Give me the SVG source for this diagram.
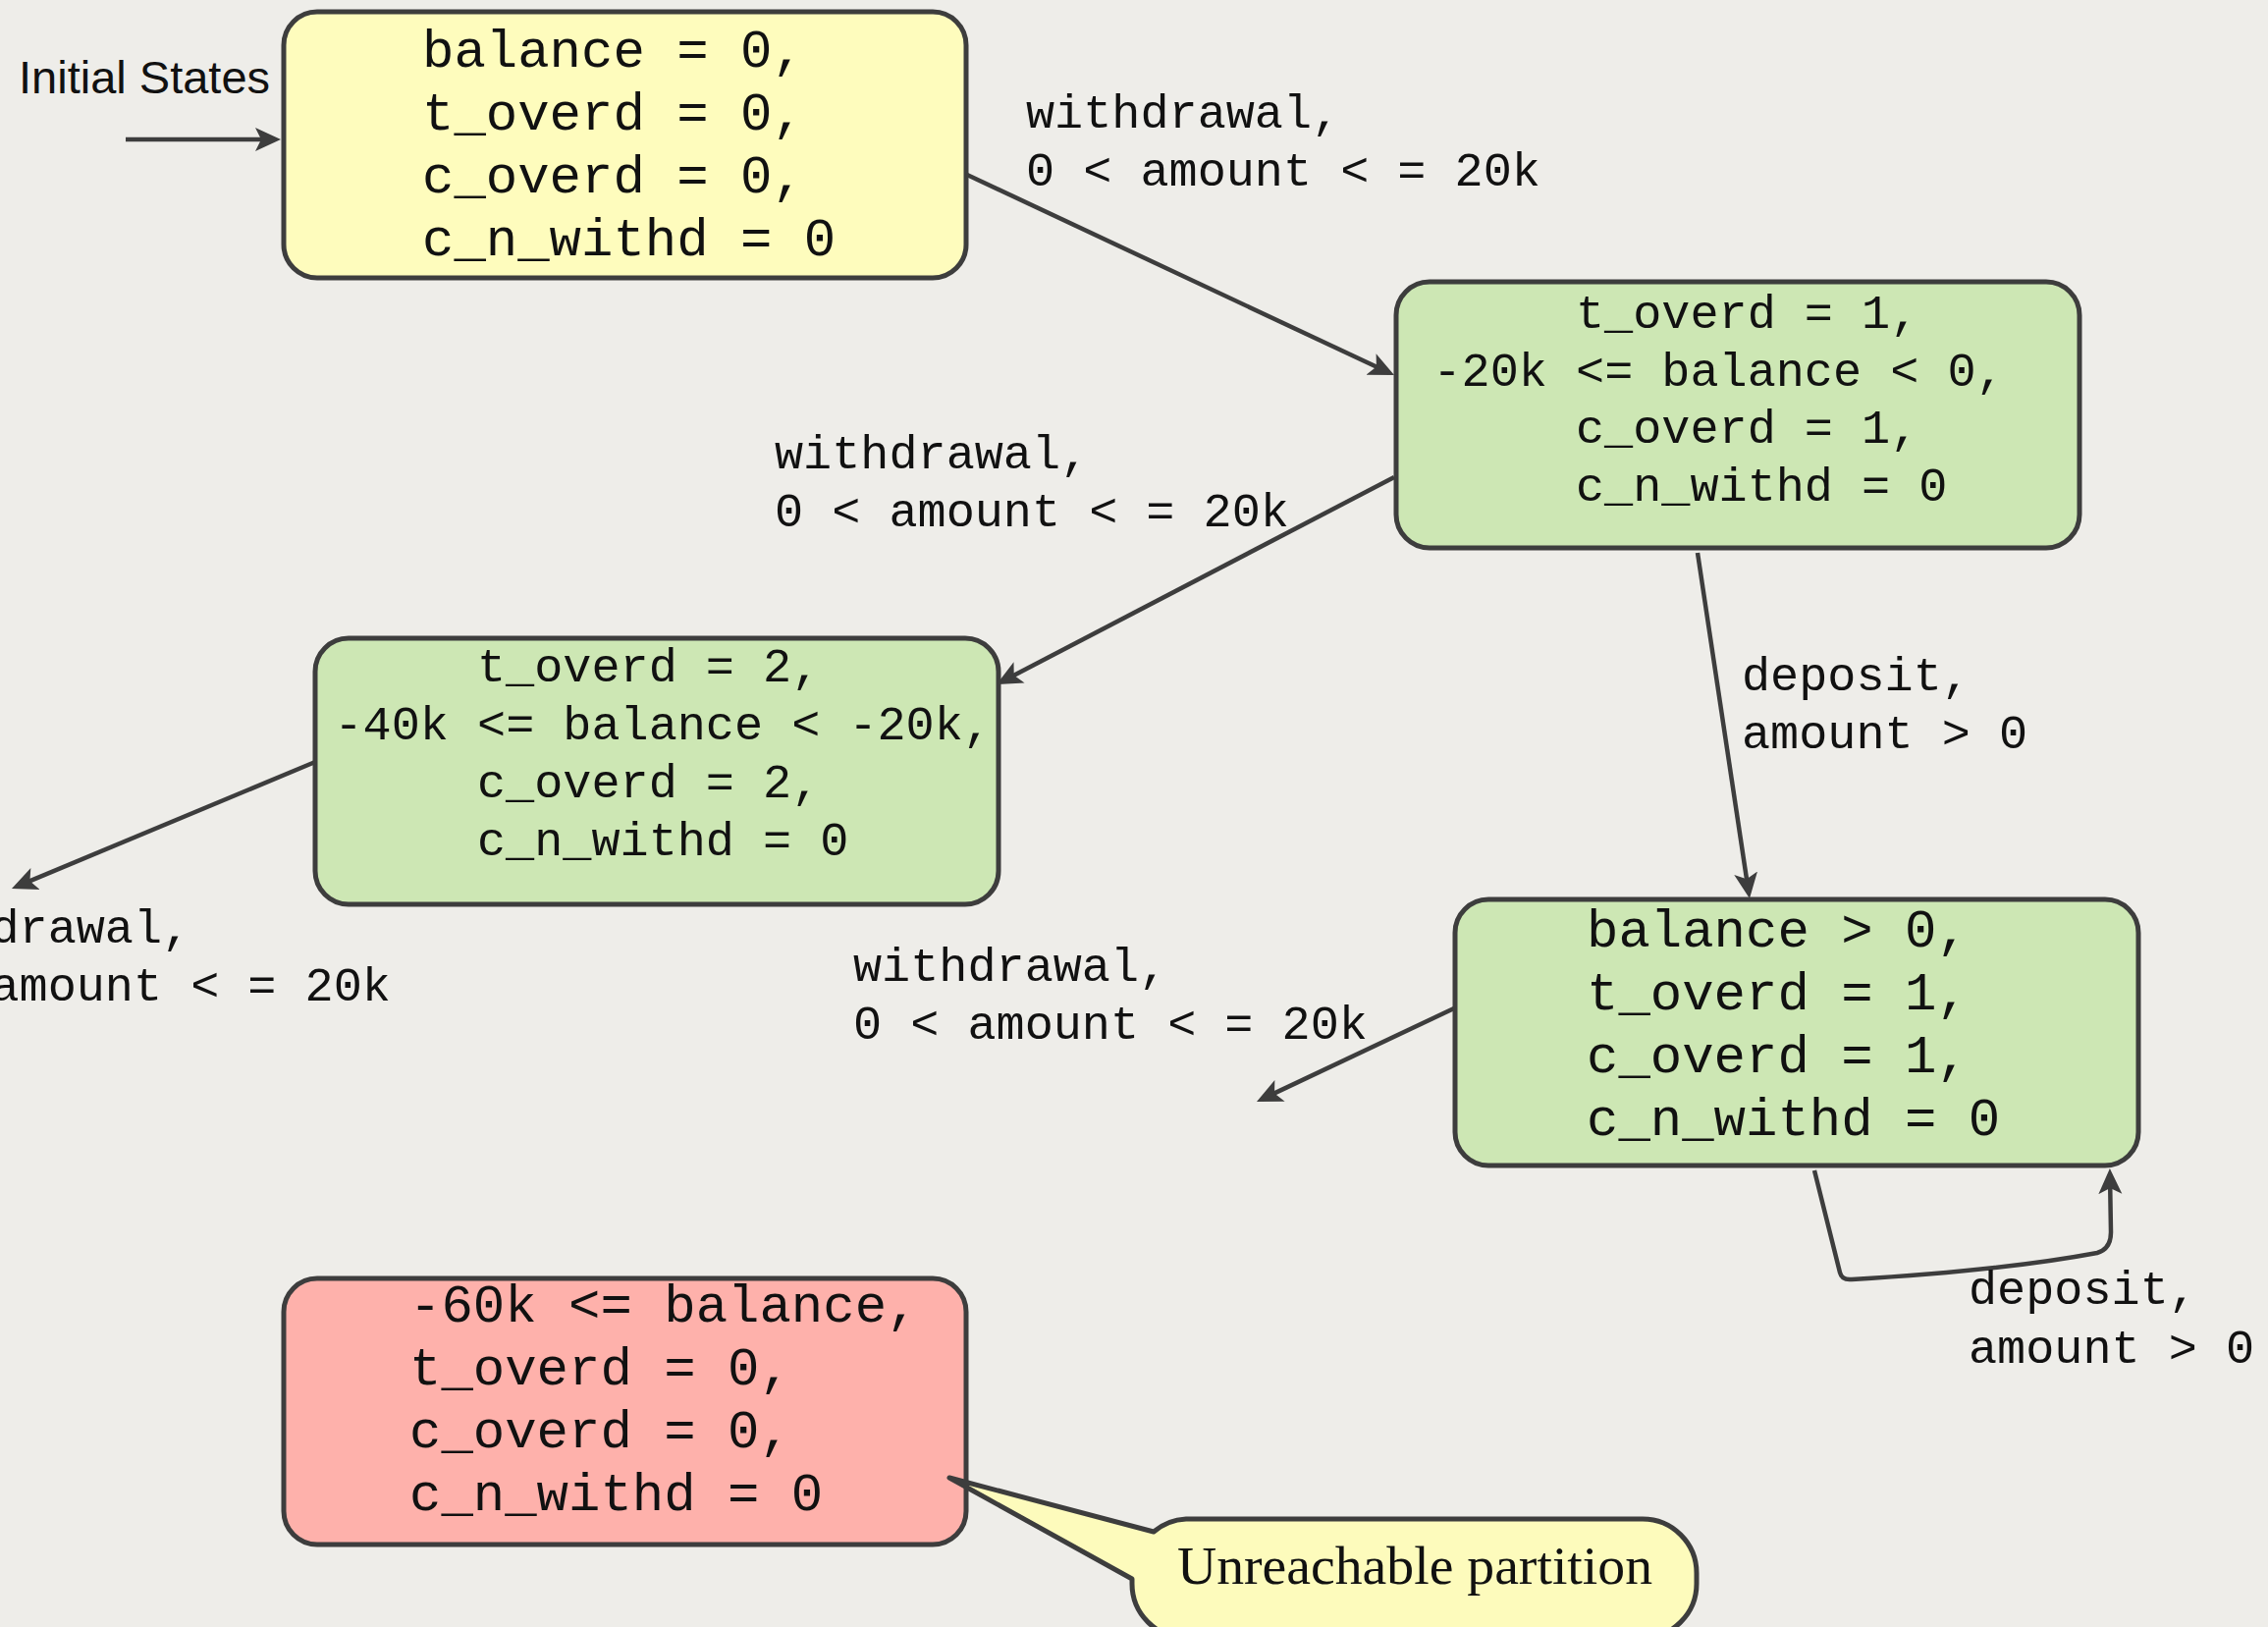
<svg xmlns="http://www.w3.org/2000/svg" width="2310" height="1657" viewBox="0 0 2310 1657">
  <style>
    .bg { fill: #eeede9; }
    .node { stroke: #3d3d3d; stroke-width: 5; }
    .init { fill: #fefcbd; }
    .ok { fill: #cde7b4; }
    .bad { fill: #feb1ab; }
    .mono { font-family: "Liberation Mono", "DejaVu Sans Mono", monospace; fill: #111; }
    .big { font-size: 54px; }
    .small { font-size: 48.5px; }
    .edge { fill: none; stroke: #3d3d3d; stroke-width: 4.5; }
    .callout { fill: #fdfbbc; stroke: #3d3d3d; stroke-width: 5; stroke-linejoin: round; }
    .note { font-family: "Liberation Serif", "DejaVu Serif", serif; font-size: 54px; fill: #111; }
    .title { font-family: "Liberation Sans", Arial, sans-serif; font-size: 47px; fill: #111; }
  </style>
  <defs>
    <marker id="arrow" markerUnits="userSpaceOnUse" viewBox="0 -13 27 26" refX="20" refY="0" markerWidth="27" markerHeight="26" orient="auto">
      <path d="M0,-12 L26,0 L0,12 L6,0 Z" fill="#3d3d3d"/>
    </marker>
  </defs>

  <rect class="bg" x="0" y="0" width="2310" height="1657"/>

  <!-- transitions -->
  <g id="connectors">
    <line class="edge" x1="128" y1="142" x2="280" y2="142" marker-end="url(#arrow)"/>
    <line class="edge" x1="985" y1="178" x2="1414.6" y2="379.5" marker-end="url(#arrow)"/>
    <line class="edge" x1="1420" y1="486" x2="1020.3" y2="694.2" marker-end="url(#arrow)"/>
    <line class="edge" x1="321" y1="776" x2="17.5" y2="902.7" marker-end="url(#arrow)"/>
    <line class="edge" x1="1729" y1="563" x2="1781.1" y2="909.1" marker-end="url(#arrow)"/>
    <line class="edge" x1="1483" y1="1026" x2="1285.4" y2="1119.4" marker-end="url(#arrow)"/>
    <path class="edge" d="M1848,1192 L1874,1296 Q1876,1304 1886,1303 Q2040,1294 2136,1276 Q2150,1272 2150,1255 L2149,1196" marker-end="url(#arrow)"/>
  </g>

  <!-- edge labels -->
  <g id="labels" class="mono small">
    <text x="1045" y="130">withdrawal,</text>
    <text x="1045" y="189">0 &lt; amount &lt; = 20k</text>
    <text x="789" y="477">withdrawal,</text>
    <text x="789" y="536">0 &lt; amount &lt; = 20k</text>
    <text x="-126" y="960">withdrawal,</text>
    <text x="-126" y="1019">0 &lt; amount &lt; = 20k</text>
    <text x="869" y="999">withdrawal,</text>
    <text x="869" y="1058">0 &lt; amount &lt; = 20k</text>
    <text x="1774" y="703">deposit,</text>
    <text x="1774" y="762">amount &gt; 0</text>
    <text x="2005" y="1328">deposit,</text>
    <text x="2005" y="1388">amount &gt; 0</text>
  </g>

  <text id="initial-label" class="title" x="19" y="95">Initial States</text>

  <g id="state-initial">
    <rect class="node init" x="289" y="12" width="695" height="271" rx="34"/>
    <g class="mono big">
      <text x="430" y="68">balance = 0,</text>
      <text x="430" y="132">t_overd = 0,</text>
      <text x="430" y="196">c_overd = 0,</text>
      <text x="430" y="260">c_n_withd = 0</text>
    </g>
  </g>

  <g id="state-overdrawn-1">
    <rect class="node ok" x="1422" y="287" width="696" height="271" rx="34"/>
    <g class="mono small">
      <text x="1605" y="334">t_overd = 1,</text>
      <text x="1459.5" y="393">-20k &lt;= balance &lt; 0,</text>
      <text x="1605" y="451">c_overd = 1,</text>
      <text x="1605" y="510">c_n_withd = 0</text>
    </g>
  </g>

  <g id="state-overdrawn-2">
    <rect class="node ok" x="321" y="650" width="696" height="271" rx="34"/>
    <g class="mono small">
      <text x="486" y="694">t_overd = 2,</text>
      <text x="340.5" y="753">-40k &lt;= balance &lt; -20k,</text>
      <text x="486" y="812">c_overd = 2,</text>
      <text x="486" y="871">c_n_withd = 0</text>
    </g>
  </g>

  <g id="state-recovered">
    <rect class="node ok" x="1482" y="916" width="696" height="271" rx="34"/>
    <g class="mono big">
      <text x="1616" y="964">balance &gt; 0,</text>
      <text x="1616" y="1028">t_overd = 1,</text>
      <text x="1616" y="1092">c_overd = 1,</text>
      <text x="1616" y="1156">c_n_withd = 0</text>
    </g>
  </g>

  <g id="state-unreachable">
    <rect class="node bad" x="289" y="1302" width="695" height="271" rx="34"/>
    <g class="mono big">
      <text x="417" y="1346">-60k &lt;= balance,</text>
      <text x="417" y="1410">t_overd = 0,</text>
      <text x="417" y="1474">c_overd = 0,</text>
      <text x="417" y="1538">c_n_withd = 0</text>
    </g>
  </g>

  <g id="note-unreachable">
    <path class="callout" d="M967,1505 L1175,1560 A55,55 0 0 1 1208,1547 L1673,1547 A55,55 0 0 1 1728,1602 L1728,1613 A55,55 0 0 1 1673,1668 L1208,1668 A55,55 0 0 1 1153,1613 L1153,1608 Z"/>
    <text class="note" x="1441" y="1613" text-anchor="middle" textLength="484" lengthAdjust="spacingAndGlyphs">Unreachable partition</text>
  </g>
</svg>
